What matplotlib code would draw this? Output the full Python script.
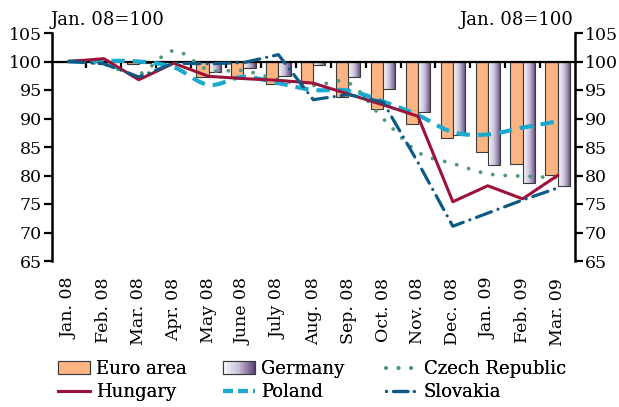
import numpy as np
import matplotlib
matplotlib.use("Agg")
import matplotlib.pyplot as plt
from matplotlib.patches import Rectangle
from matplotlib.lines import Line2D
from matplotlib.legend_handler import HandlerBase
from matplotlib.colors import LinearSegmentedColormap

# ---------------- data ----------------
months = ["Jan. 08", "Feb. 08", "Mar. 08", "Apr. 08", "May 08", "June 08",
          "July 08", "Aug. 08", "Sep. 08", "Oct. 08", "Nov. 08", "Dec. 08",
          "Jan. 09", "Feb. 09", "Mar. 09"]
euro_area = [100, 99.9, 99.6, 99.9, 97.2, 97.2, 96.0, 96.3, 93.8, 91.6,
             89.1, 86.5, 84.1, 82.0, 80.1]
germany = [100, 100.0, 99.8, 100.0, 98.2, 98.8, 97.4, 99.3, 97.2, 95.1,
           91.2, 87.1, 81.9, 78.6, 78.2]
czech_republic = [100, 99.5, 97.8, 101.9, 98.5, 98.4, 96.8, 95.8, 96.3, 90.0,
                  84.1, 82.1, 80.3, 79.9, 79.6]
hungary = [100, 100.5, 96.8, 99.7, 97.4, 97.0, 96.7, 96.2, 94.3, 92.4,
           90.4, 75.4, 78.2, 75.9, 80.0]
poland = [100, 100.1, 100.0, 99.0, 95.9, 97.3, 96.2, 95.0, 94.9, 93.0,
          90.6, 87.6, 87.2, 88.4, 89.5]
slovakia = [100, 99.6, 97.3, 99.7, 99.6, 99.8, 101.2, 93.3, 94.2, 92.9,
            82.3, 71.1, 73.4, 75.7, 77.8]
base_label = "Jan. 08=100"
legend_labels = [["Euro area", "Hungary"], ["Germany", "Poland"],
                 ["Czech Republic", "Slovakia"]]

# ---------------- style ----------------
plt.rcParams['font.family'] = ['DejaVu Serif', 'DejaVu Sans']
FS = 12.5
LFS = 13
ORANGE = '#FBB482'
EDGE = '#3a3a3a'
C_CZ = '#4F9A7B'
C_HU = '#9C1239'
C_PL = '#1BA9CF'
C_SK = '#0E5A86'
grad_cmap = LinearSegmentedColormap.from_list('ger', ['#FAFAFC', '#C9C0D8', '#5B4578'])


def smooth(xv, yv, n=12):
    """Catmull-Rom curve through the data points (drawing style only)."""
    xv = np.asarray(xv, float)
    yv = np.asarray(yv, float)
    P = np.column_stack([xv, yv])
    P = np.vstack([2 * P[0] - P[1], P, 2 * P[-1] - P[-2]])
    out = []
    t = np.linspace(0, 1, n, endpoint=False)[:, None]
    for i in range(1, len(P) - 2):
        p0, p1, p2, p3 = P[i - 1], P[i], P[i + 1], P[i + 2]
        seg = 0.5 * ((2 * p1) + (-p0 + p2) * t + (2 * p0 - 5 * p1 + 4 * p2 - p3) * t ** 2
                     + (-p0 + 3 * p1 - 3 * p2 + p3) * t ** 3)
        out.append(seg)
    out.append(P[-2][None, :])
    out = np.vstack(out)
    return out[:, 0], out[:, 1]


W, H = 619, 407
fig = plt.figure(figsize=(W / 100, H / 100), dpi=100)
L, R, T, B = 51.5, 575, 33, 261
ax = fig.add_axes([L / W, 1 - B / H, (R - L) / W, (B - T) / H])

x = np.arange(len(months))
bw = 0.35
ax.bar(x - bw / 2, np.array(euro_area) - 100, width=bw, bottom=100,
       color=ORANGE, edgecolor=EDGE, linewidth=0.8, zorder=2)
gbars = ax.bar(x + bw / 2, np.array(germany) - 100, width=bw, bottom=100,
               facecolor='none', edgecolor=EDGE, linewidth=0.8, zorder=2.2)
grad = np.linspace(0, 1, 64).reshape(1, -1)
for b in gbars:
    h = b.get_height()
    if abs(h) < 1e-9:
        continue
    x0 = b.get_x()
    x1 = x0 + b.get_width()
    y0 = b.get_y()
    y1 = y0 + h
    im = ax.imshow(grad, cmap=grad_cmap, extent=[x0, x1, min(y0, y1), max(y0, y1)],
                   aspect='auto', interpolation='bilinear', zorder=2.1)
    im.set_clip_path(b)

CZ_STYLE = dict(color=C_CZ, lw=2.8, linestyle=(0, (0.01, 3.2)), dash_capstyle='round')
HU_STYLE = dict(color=C_HU, lw=2.2)
PL_STYLE = dict(color=C_PL, lw=3.0, linestyle=(0, (3.2, 1.9)))
SK_STYLE = dict(color=C_SK, lw=2.3, linestyle=(0, (5, 2.2, 0.01, 2.2)), dash_capstyle='round')

xs, ys = smooth(x, czech_republic)
ax.plot(xs, ys, zorder=3, **CZ_STYLE)
ax.plot(x, hungary, zorder=3.2, **HU_STYLE)
xs, ys = smooth(x, poland)
ax.plot(xs, ys, zorder=3.1, **PL_STYLE)
ax.plot(x, slovakia, zorder=3.3, **SK_STYLE)

ax.set_xlim(-0.5, len(months) - 0.5)
ax.set_ylim(65, 105)
ax.set_yticks(np.arange(65, 106, 5))
ax.tick_params(axis='y', left=True, right=True, labelleft=True, labelright=True,
               direction='out', length=6, width=1.6, labelsize=FS, pad=1,
               colors='black')
ax.spines['top'].set_visible(False)
for s in ['left', 'right']:
    ax.spines[s].set_linewidth(1.8)
ax.spines['bottom'].set_position(('data', 100))
ax.spines['bottom'].set_linewidth(1.6)
ax.spines['bottom'].set_zorder(2.5)
ax.set_xticks(x[:-1] + 0.5)
ax.tick_params(axis='x', direction='out', length=4, width=1.6, labelbottom=False)

sec = ax.secondary_xaxis('bottom')
sec.set_xticks(x, months, rotation=90)
sec.tick_params(length=0, pad=12, labelsize=FS)
sec.spines['bottom'].set_visible(False)

fig.text(L / W - 0.002, 1 - 25 / H, base_label, ha='left', va='baseline', fontsize=LFS)
fig.text(R / W - 0.002, 1 - 25 / H, base_label, ha='right', va='baseline', fontsize=LFS)


class GradHandler(HandlerBase):
    def create_artists(self, legend, orig_handle, xdescent, ydescent, width, height,
                       fontsize, trans):
        arts = []
        n = 24
        for i in range(n):
            arts.append(Rectangle((-xdescent + i * width / n, -ydescent), width / n, height,
                                  facecolor=grad_cmap((i + 0.5) / n), edgecolor='none',
                                  transform=trans))
        arts.append(Rectangle((-xdescent, -ydescent), width, height, facecolor='none',
                              edgecolor=EDGE, linewidth=0.8, transform=trans))
        return arts


h_euro = Rectangle((0, 0), 1, 1, facecolor=ORANGE, edgecolor=EDGE, linewidth=0.8)
h_ger = Rectangle((0, 0), 1, 1)
h_cz = Line2D([], [], **CZ_STYLE)
h_hu = Line2D([], [], **HU_STYLE)
h_pl = Line2D([], [], color=C_PL, lw=3.0, linestyle=(0, (2.4, 1.2)))
h_sk = Line2D([], [], color=C_SK, lw=2.3, linestyle=(0, (0.01, 2.2, 4.5, 2)),
              dash_capstyle='round')

col_handles = [[h_euro, h_hu], [h_ger, h_pl], [h_cz, h_sk]]
col_x = [58, 223, 386]
for hs, labs, cx in zip(col_handles, legend_labels, col_x):
    leg = fig.legend(hs, labs, handler_map={h_ger: GradHandler()}, ncol=1,
                     loc='upper left', bbox_to_anchor=(cx / W, 1 - 360 / H), frameon=False,
                     fontsize=LFS, handlelength=1.75, handleheight=0.75, handletextpad=0.35,
                     labelspacing=0.3, borderpad=0, borderaxespad=0)
    fig.add_artist(leg)

fig.savefig('out.png', dpi=100)
